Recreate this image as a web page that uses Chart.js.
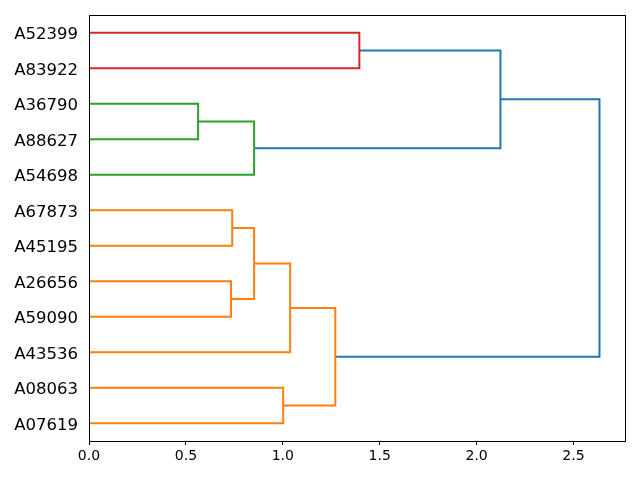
<!DOCTYPE html>
<html>
<head>
<meta charset="utf-8">
<script src="https://cdn.jsdelivr.net/npm/chart.js@4"></script>
<style>
  html, body { margin: 0; padding: 0; background: #fff; }
  canvas { display: block; }
</style>
</head>
<body>
<canvas id="dendro" width="640" height="480"></canvas>
<script>
// Leaf labels, top to bottom
const leaves = ['A52399', 'A83922', 'A36790', 'A88627', 'A54698', 'A67873',
                'A45195', 'A26656', 'A59090', 'A43536', 'A08063', 'A07619'];

// Linkage: node ids 0..11 are leaves, each merge creates node 12, 13, ...
const mergeLeft  = [2, 7, 5, 12, 14, 10, 16, 18, 0, 20, 21];
const mergeRight = [3, 8, 6, 4, 13, 11, 9, 17, 1, 15, 19];
const mergeDist  = [0.563, 0.733, 0.739, 0.852, 0.852, 1.002, 1.038, 1.271, 1.395, 2.123, 2.634];
const mergeColor = ['#2ca02c', '#ff7f0e', '#ff7f0e', '#2ca02c', '#ff7f0e', '#ff7f0e',
                    '#ff7f0e', '#ff7f0e', '#d62728', '#1f77b4', '#1f77b4'];

const xTicks = [0, 0.5, 1.0, 1.5, 2.0, 2.5];

// node positions (y) and heights (x)
const pos = leaves.map((_, i) => 5 + 10 * i);
const height = leaves.map(() => 0);

const datasets = mergeDist.map((d, k) => {
  const a = mergeLeft[k], b = mergeRight[k];
  pos.push((pos[a] + pos[b]) / 2);
  height.push(d);
  return {
    data: [
      { x: height[a], y: pos[a] },
      { x: d, y: pos[a] },
      { x: d, y: pos[b] },
      { x: height[b], y: pos[b] }
    ],
    showLine: true,
    borderColor: mergeColor[k],
    borderWidth: 2,
    pointRadius: 0,
    fill: false,
    tension: 0
  };
});

// box around the plot area
const frame = {
  id: 'frame',
  afterDraw(chart) {
    const { ctx, chartArea: a } = chart;
    ctx.save();
    ctx.strokeStyle = '#000';
    ctx.lineWidth = 1;
    ctx.strokeRect(Math.round(a.left) + 0.5, Math.round(a.top) + 0.5,
                   Math.round(a.right - a.left), Math.round(a.bottom - a.top));
    ctx.restore();
  }
};

new Chart(document.getElementById('dendro').getContext('2d'), {
  type: 'scatter',
  data: { datasets },
  options: {
    responsive: false,
    animation: false,
    layout: { padding: { top: 15, right: 15, left: 0, bottom: 0 } },
    plugins: { legend: { display: false }, tooltip: { enabled: false } },
    scales: {
      x: {
        type: 'linear',
        min: 0,
        max: Math.max(...mergeDist) * 1.05,
        afterBuildTicks: s => { s.ticks = xTicks.map(v => ({ value: v })); },
        afterFit: s => { s.height = 39; s.paddingLeft = 0; s.paddingRight = 0; },
        ticks: {
          color: '#000',
          font: { family: 'DejaVu Sans', size: 14 },
          padding: 3,
          maxRotation: 0,
          callback: v => Number(v).toFixed(1)
        },
        grid: { display: true, drawOnChartArea: false, drawTicks: true, tickLength: 4, color: '#000' },
        border: { display: true, color: '#000' }
      },
      y: {
        type: 'linear',
        min: 0,
        max: leaves.length * 10,
        reverse: true,
        afterBuildTicks: s => { s.ticks = leaves.map((_, i) => ({ value: 5 + 10 * i })); },
        afterFit: s => { s.width = 89; s.paddingTop = 0; s.paddingBottom = 0; },
        ticks: {
          color: '#000',
          font: { family: 'DejaVu Sans', size: 16.5 },
          padding: 3,
          labelOffset: 2,
          callback: v => leaves[Math.round((v - 5) / 10)]
        },
        grid: { display: false },
        border: { display: true, color: '#000' }
      }
    }
  },
  plugins: [frame]
});
</script>
</body>
</html>
